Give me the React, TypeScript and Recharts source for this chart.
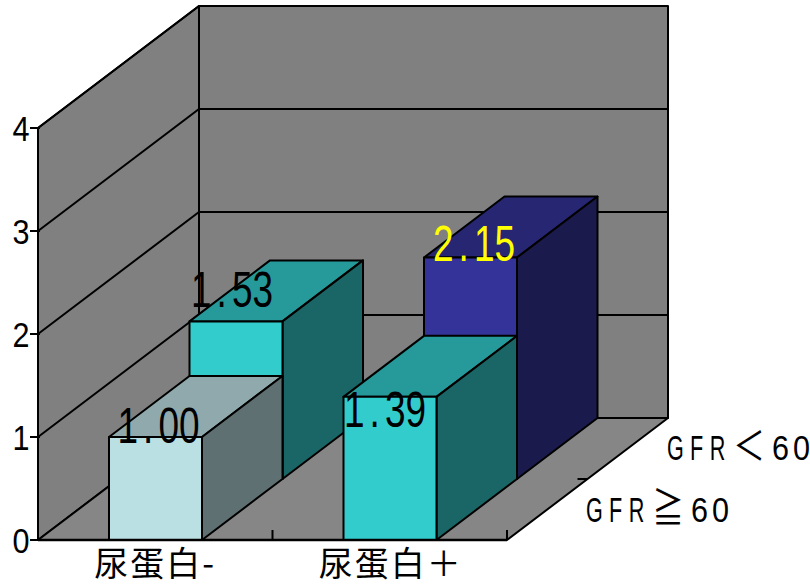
import { Bar, BarChart, ReferenceArea, ReferenceLine, XAxis, YAxis } from "recharts";

const categories = ["尿蛋白-", "尿蛋白＋"];
const frontValues = [1.0, 1.39];
const backValues = [1.53, 2.15];
const seriesNames = ["GFR≧60", "GFR＜60"];
const yTicks = [0, 1, 2, 3, 4];

const rows = categories.map((name, i) => ({
  name,
  front: frontValues[i],
  back: backValues[i],
}));

const FONT = '"Noto Sans CJK JP", sans-serif';
const LATIN = '"Liberation Sans", sans-serif';
const INK = "#000";
const DEPTH_X = 161;
const DEPTH_Y = -122;
const ROW_X = DEPTH_X / 2;
const ROW_Y = DEPTH_Y / 2;

const frontColors = [
  { face: "#BBE0E3", top: "#8FA9AC", side: "#5E7072" },
  { face: "#33CCCC", top: "#269A9A", side: "#1A6666" },
];
const backColors = [
  { face: "#33CCCC", top: "#269A9A", side: "#1A6666" },
  { face: "#333399", top: "#262673", side: "#1A1A4D" },
];

// baseline of each value label, measured from the top of its bar's front face
const frontLabelDy = [6, 30];
const backLabelDy = [-14, 3];

const pts = (list: number[][]) => list.map((p) => p.join(",")).join(" ");

// Lays text out in half-width cells: every latin glyph is squeezed into one cell,
// every full-width glyph takes two.
function CellText({ x, y, text, pitch, fontSize, digitScale, capScale, fill = INK }: any) {
  let cursor = x;
  const parts = Array.from(text as string).map((ch, i) => {
    const wide = ch.charCodeAt(0) > 255;
    const span = wide ? pitch * 2 : pitch;
    const sx = wide ? 0.8 : /[A-Z]/.test(ch) ? capScale : digitScale;
    const cx = cursor + span / 2;
    cursor += span;
    return (
      <text
        key={i}
        transform={`translate(${cx},${y}) scale(${sx},1)`}
        textAnchor="middle"
        fontFamily={wide ? FONT : LATIN}
        fontSize={wide ? fontSize * 1.1 : fontSize}
        fill={fill}
      >
        {ch}
      </text>
    );
  });
  return <g>{parts}</g>;
}

function Box({ x, y, width, height, colors, shiftX, shiftY, label, labelDy, labelColor, labelDx }: any) {
  const l = x + shiftX;
  const r = l + width;
  const t = y + shiftY;
  const b = t + height;
  const common = { stroke: INK, strokeWidth: 2, strokeLinejoin: "round" as const };
  return (
    <g>
      <polygon {...common} fill={colors.top} points={pts([[l, t], [r, t], [r + ROW_X, t + ROW_Y], [l + ROW_X, t + ROW_Y]])} />
      <polygon {...common} fill={colors.side} points={pts([[r, t], [r + ROW_X, t + ROW_Y], [r + ROW_X, b + ROW_Y], [r, b]])} />
      <rect {...common} fill={colors.face} x={l} y={t} width={width} height={height} />
      <CellText
        x={l + width / 2 + labelDx - 41}
        y={t + labelDy}
        text={label}
        pitch={20.5}
        fontSize={50}
        digitScale={0.74}
        fill={labelColor}
      />
    </g>
  );
}

function FrontBox(props: any) {
  return (
    <Box
      {...props}
      colors={frontColors[props.index]}
      shiftX={0}
      shiftY={0}
      label={frontValues[props.index].toFixed(2)}
      labelDy={frontLabelDy[props.index]}
      labelDx={props.index === 0 ? 3 : -5}
      labelColor={INK}
    />
  );
}

function BackBox(props: any) {
  return (
    <Box
      {...props}
      colors={backColors[props.index]}
      shiftX={ROW_X}
      shiftY={ROW_Y}
      label={backValues[props.index].toFixed(2)}
      labelDy={backLabelDy[props.index]}
      labelDx={props.index === 0 ? -4 : 3.5}
      labelColor={props.index === 1 ? "#FFFF00" : INK}
    />
  );
}

// side wall, back wall and floor of the 3D box, plus category and depth tick marks
function Room({ x, y, width, height }: any) {
  const bottom = y + height;
  const right = x + width;
  const common = { stroke: INK, strokeWidth: 2, strokeLinejoin: "round" as const };
  return (
    <g>
      <polygon {...common} fill="#808080" points={pts([[x, y], [x + DEPTH_X, y + DEPTH_Y], [x + DEPTH_X, bottom + DEPTH_Y], [x, bottom]])} />
      <polygon {...common} fill="#808080" points={pts([[x + DEPTH_X, y + DEPTH_Y], [right + DEPTH_X, y + DEPTH_Y], [right + DEPTH_X, bottom + DEPTH_Y], [x + DEPTH_X, bottom + DEPTH_Y]])} />
      <polygon {...common} fill="#868686" points={pts([[x, bottom], [x + DEPTH_X, bottom + DEPTH_Y], [right + DEPTH_X, bottom + DEPTH_Y], [right, bottom]])} />
      {categories.map((_, i) => {
        const tx = x + (width * (i + 1)) / categories.length;
        return <line key={i} x1={tx} x2={tx} y1={bottom} y2={bottom - 10} stroke={INK} strokeWidth={2} />;
      })}
      <line x1={right + ROW_X} x2={right + ROW_X - 10} y1={bottom + ROW_Y} y2={bottom + ROW_Y} stroke={INK} strokeWidth={2} />
      <CellText x={584} y={522} text={seriesNames[0]} pitch={21} fontSize={36} digitScale={0.85} capScale={0.6} />
      <CellText x={665} y={460} text={seriesNames[1]} pitch={21} fontSize={36} digitScale={0.85} capScale={0.6} />
    </g>
  );
}

// grid line that runs along the side wall and then across the back wall
function WallLine({ x1, x2, y1 }: any) {
  const path = pts([[x1, y1], [x1 + DEPTH_X, y1 + DEPTH_Y], [x2 + DEPTH_X, y1 + DEPTH_Y]]);
  return <polyline points={path} fill="none" stroke={INK} strokeWidth={2} />;
}

function ValueTick({ x, y, payload }: any) {
  return (
    <g>
      <CellText x={11} y={y + 13} text={String(payload.value)} pitch={20} fontSize={36} digitScale={0.85} />
      <line x1={x} x2={x + 10} y1={y} y2={y} stroke={INK} strokeWidth={2} />
    </g>
  );
}

function CategoryTick({ x, payload, index }: any) {
  return (
    <text x={x + (index === 0 ? 0 : 1)} y={576} textAnchor="middle" fontFamily={FONT} fontSize={34} fill={INK} letterSpacing={2}>
      {payload.value}
    </text>
  );
}

export default function App() {
  return (
    <div style={{ position: "absolute", left: 0, top: 0, width: 810, height: 584, background: "#fff" }}>
      <BarChart
        width={810}
        height={584}
        data={rows}
        margin={{ top: 128, right: 303, bottom: 0, left: 0 }}
        style={{ fontFamily: FONT }}
      >
        <XAxis
          xAxisId="front"
          dataKey="name"
          height={44}
          axisLine={{ stroke: INK, strokeWidth: 2.5 }}
          tickLine={false}
          tick={<CategoryTick />}
          interval={0}
        />
        <XAxis xAxisId="back" dataKey="name" hide height={0} />
        <YAxis
          width={38}
          domain={[0, 4]}
          ticks={yTicks}
          interval={0}
          axisLine={{ stroke: INK, strokeWidth: 2 }}
          tickLine={false}
          tick={<ValueTick />}
        />
        <ReferenceArea xAxisId="front" y1={0} y2={4} ifOverflow="visible" shape={<Room />} zIndex={100} />
        {yTicks.slice(1).map((v) => (
          <ReferenceLine key={v} xAxisId="front" y={v} ifOverflow="visible" shape={<WallLine />} zIndex={101} />
        ))}
        <Bar xAxisId="back" dataKey="back" barSize={93} shape={<BackBox />} isAnimationActive={false} />
        <Bar xAxisId="front" dataKey="front" barSize={93} shape={<FrontBox />} isAnimationActive={false} />
      </BarChart>
    </div>
  );
}
